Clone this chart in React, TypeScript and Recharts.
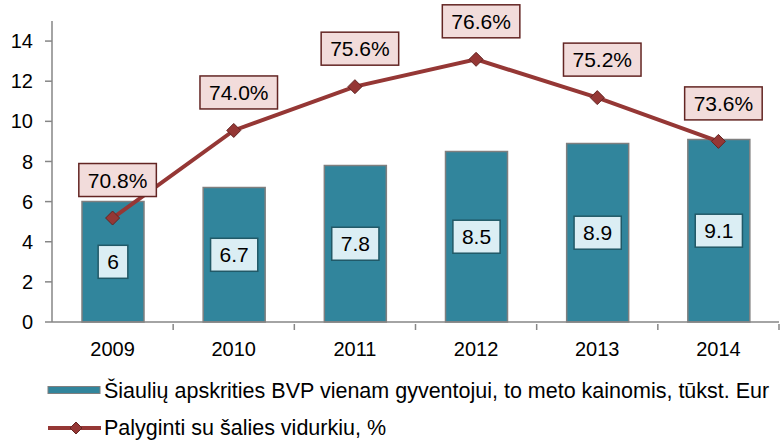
import React from "react";
import { ComposedChart, Bar, Line, XAxis, YAxis, LabelList } from "recharts";

const years = ["2009", "2010", "2011", "2012", "2013", "2014"];
const gdpPerCapita = [6, 6.7, 7.8, 8.5, 8.9, 9.1];
const vsNationalAvg = [70.8, 74.0, 75.6, 76.6, 75.2, 73.6];
const leftTicks = [0, 2, 4, 6, 8, 10, 12, 14];
const seriesNames = [
  "Šiaulių apskrities BVP vienam gyventojui, to meto kainomis, tūkst. Eur",
  "Palyginti su šalies vidurkiu, %",
];

const data = years.map((year, i) => ({ year, gdp: gdpPerCapita[i], pct: vsNationalAvg[i] }));

const FONT = "'Liberation Sans', Arial, sans-serif";
const BAR = "#31859c";
const LINE = "#953735";
const AXIS = "#868686";

// rough Arial widths, in em
function textWidth(s: string, fs: number) {
  let w = 0;
  for (const c of s) w += c === "." ? 0.278 : c === "%" ? 0.889 : 0.556;
  return w * fs;
}

function BoxLabel({ cx, cy, text, fill, stroke }: { cx: number; cy: number; text: string; fill: string; stroke: string }) {
  const fs = 21;
  const w = textWidth(text, fs) + 18;
  const h = 33;
  return (
    <g>
      <rect x={cx - w / 2} y={cy - h / 2} width={w} height={h} fill={fill} stroke={stroke} strokeWidth={1.5} />
      <text x={cx} y={cy} dy={7.5} textAnchor="middle" fontSize={fs} fontFamily={FONT} fill="#000">
        {text}
      </text>
    </g>
  );
}

const barLabel = (p: any) => (
  <BoxLabel cx={p.x + p.width / 2} cy={p.y + p.height / 2} text={String(p.value)} fill="#dbeef4" stroke="#215967" />
);

const lineLabel = (p: any) => (
  <BoxLabel cx={p.x + 5} cy={p.y - 38} text={Number(p.value).toFixed(1) + "%"} fill="#f2dcdb" stroke="#632523" />
);

const Diamond = (p: any) => {
  const r = 7;
  return (
    <path
      key={p.index}
      d={`M${p.cx},${p.cy - r}L${p.cx + r},${p.cy}L${p.cx},${p.cy + r}L${p.cx - r},${p.cy}Z`}
      fill={LINE}
      stroke="#632523"
      strokeWidth={1}
    />
  );
};

const XTick = (p: any) => {
  const band = p.width / p.visibleTicksCount;
  const axisY = p.y;
  return (
    <g>
      <line x1={p.x + band / 2} x2={p.x + band / 2} y1={axisY} y2={axisY + 6} stroke={AXIS} strokeWidth={1.5} />
      <text x={p.x} y={axisY} dy={32} textAnchor="middle" fontSize={20} fontFamily={FONT} fill="#000">
        {p.payload.value}
      </text>
    </g>
  );
};

export default function App() {
  return (
    <div style={{ position: "relative", width: 781, height: 443, background: "#fff", fontFamily: FONT }}>
      <style>{"body{margin:0}"}</style>
      <ComposedChart width={781} height={443} data={data} margin={{ top: 21, right: 2, bottom: 91, left: 0 }}>
        <XAxis
          dataKey="year"
          stroke={AXIS}
          strokeWidth={1.5}
          tickLine={false}
          tickSize={0}
          height={30}
          tick={XTick}
          interval={0}
        />
        <YAxis
          yAxisId="gdp"
          width={52}
          domain={[0, 15]}
          ticks={leftTicks}
          stroke={AXIS}
          strokeWidth={1.5}
          tickSize={7}
          tickMargin={12}
          tick={{ fill: "#000", fontSize: 20, fontFamily: FONT }}
        />
        <YAxis yAxisId="pct" orientation="right" hide domain={[67, 78]} />
        <Bar
          yAxisId="gdp"
          dataKey="gdp"
          name={seriesNames[0]}
          fill={BAR}
          stroke="#7f7f7f"
          strokeWidth={1.5}
          barSize={62}
          isAnimationActive={false}
        >
          <LabelList dataKey="gdp" content={barLabel} />
        </Bar>
        <Line
          yAxisId="pct"
          dataKey="pct"
          name={seriesNames[1]}
          stroke={LINE}
          strokeWidth={4}
          dot={Diamond}
          activeDot={false}
          isAnimationActive={false}
        >
          <LabelList dataKey="pct" content={lineLabel} />
        </Line>
      </ComposedChart>
      <svg width={781} height={80} style={{ position: "absolute", left: 0, top: 363 }}>
        <rect x={48} y={23.5} width={52} height={7} fill={BAR} stroke="#7f7f7f" strokeWidth={1} />
        <text x={104} y={35} fontSize={21.5} fontFamily={FONT} fill="#000">
          {seriesNames[0]}
        </text>
        <line x1={48} x2={101} y1={65} y2={65} stroke={LINE} strokeWidth={4} />
        <path d="M76,59L82,65L76,71L70,65Z" fill={LINE} stroke="#632523" strokeWidth={1} />
        <text x={104} y={72} fontSize={21.5} fontFamily={FONT} fill="#000">
          {seriesNames[1]}
        </text>
      </svg>
    </div>
  );
}
